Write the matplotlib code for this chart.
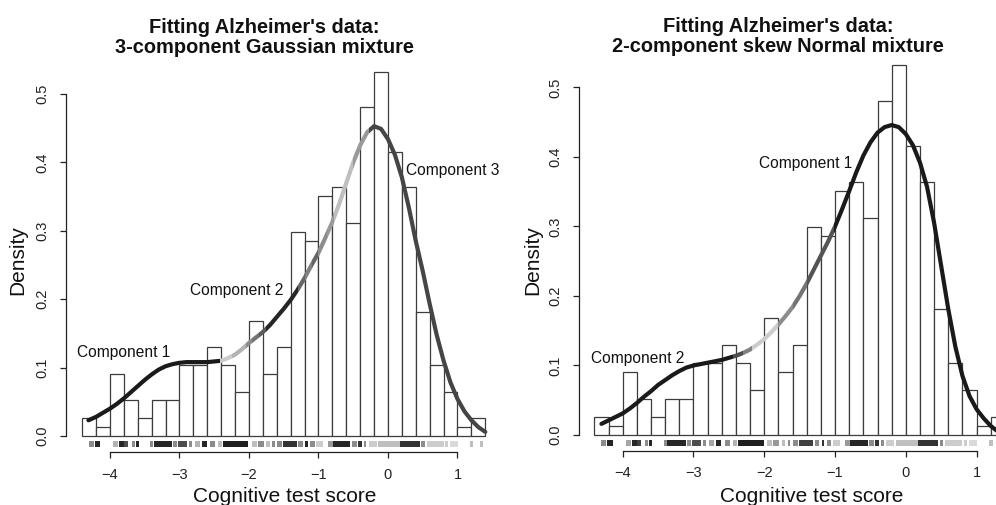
import numpy as np
import matplotlib
matplotlib.use('Agg')
import matplotlib.pyplot as plt
from matplotlib.patches import Rectangle

plt.rcParams['font.family'] = ['Liberation Sans', 'DejaVu Sans']

# ---------------- data ----------------
bin_left = [-4.4, -4.2, -4.0, -3.8, -3.6, -3.4, -3.2, -3.0, -2.8, -2.6, -2.4, -2.2, -2.0, -1.8,
            -1.6, -1.4, -1.2, -1.0, -0.8, -0.6, -0.4, -0.2, 0.0, 0.2, 0.4, 0.6, 0.8, 1.0, 1.2]
bin_counts = [2, 1, 7, 4, 2, 4, 4, 8, 8, 10, 8, 5, 13, 7, 10, 23, 22, 27, 28, 24, 37, 41, 32, 28,
              14, 8, 5, 1, 2]
bin_width = 0.2

gauss_x = [-4.31, -4.2, -4.1, -4.0, -3.9, -3.8, -3.7, -3.6, -3.5, -3.4, -3.3, -3.2, -3.1, -3.0,
           -2.9, -2.8, -2.7, -2.6, -2.5, -2.4, -2.3, -2.2, -2.1, -2.0, -1.9, -1.8, -1.7, -1.6,
           -1.5, -1.4, -1.3, -1.2, -1.1, -1.0, -0.9, -0.8, -0.7, -0.6, -0.5, -0.4, -0.3, -0.2,
           -0.1, 0.0, 0.1, 0.2, 0.3, 0.4, 0.5, 0.6, 0.7, 0.8, 0.9, 1.0, 1.1, 1.2, 1.3, 1.4]
gauss_y = [0.023, 0.028, 0.034, 0.040, 0.047, 0.055, 0.064, 0.073, 0.082, 0.090, 0.097, 0.102,
           0.105, 0.107, 0.108, 0.108, 0.108, 0.108, 0.109, 0.110, 0.114, 0.119, 0.127, 0.136,
           0.144, 0.152, 0.162, 0.174, 0.186, 0.199, 0.214, 0.231, 0.250, 0.268, 0.290, 0.313,
           0.340, 0.370, 0.400, 0.425, 0.444, 0.453, 0.449, 0.434, 0.411, 0.378, 0.334, 0.285,
           0.241, 0.193, 0.148, 0.110, 0.078, 0.054, 0.036, 0.023, 0.013, 0.006]
gauss_breaks = [-4.4, -2.42, -2.25, -2.05, -1.95, -1.85, -1.75, -1.3, -1.2, -1.1, -1.0, -0.88,
                -0.78, -0.5, -0.27, 1.5]
gauss_grays = [0.10, 0.80, 0.70, 0.55, 0.45, 0.35, 0.15, 0.40, 0.50, 0.40, 0.55, 0.60, 0.75,
               0.60, 0.27]

skew_x = [-4.30, -4.2, -4.1, -4.0, -3.9, -3.8, -3.7, -3.6, -3.5, -3.4, -3.3, -3.2, -3.1, -3.0,
          -2.9, -2.8, -2.7, -2.6, -2.5, -2.4, -2.3, -2.2, -2.1, -2.0, -1.9, -1.8, -1.7, -1.6,
          -1.5, -1.4, -1.3, -1.2, -1.1, -1.0, -0.9, -0.8, -0.7, -0.6, -0.5, -0.4, -0.3, -0.2,
          -0.1, 0.0, 0.1, 0.2, 0.3, 0.4, 0.5, 0.6, 0.7, 0.8, 0.9, 1.0, 1.1, 1.2, 1.3, 1.4]
skew_y = [0.016, 0.021, 0.026, 0.031, 0.038, 0.046, 0.055, 0.063, 0.072, 0.079, 0.086, 0.092,
          0.097, 0.100, 0.102, 0.104, 0.106, 0.108, 0.111, 0.114, 0.118, 0.123, 0.130, 0.138,
          0.148, 0.159, 0.171, 0.184, 0.200, 0.218, 0.238, 0.258, 0.278, 0.300, 0.325, 0.351,
          0.378, 0.402, 0.421, 0.435, 0.443, 0.446, 0.443, 0.433, 0.417, 0.392, 0.357, 0.305,
          0.243, 0.181, 0.127, 0.085, 0.056, 0.037, 0.024, 0.013, 0.005, 0.002]
skew_breaks = [-4.4, -2.44, -2.3, -2.18, -1.8, -1.6, -1.4, -1.02, 1.5]
skew_grays = [0.10, 0.30, 0.50, 0.80, 0.55, 0.45, 0.33, 0.10]

rug_start = [-4.30, -4.22, -3.95, -3.87, -3.80, -3.69, -3.63, -3.42, -3.37, -3.09, -3.02, -2.87,
             -2.78, -2.68, -2.56, -2.44, -2.37, -1.96, -1.87, -1.75, -1.67, -1.60, -1.51, -1.29,
             -1.19, -1.12, -1.03, -0.86, -0.79, -0.52, -0.43, -0.35, -0.28, -0.14, 0.17, 0.48,
             0.56, 0.82, 0.89, 1.18, 1.32]
rug_end = [-4.23, -4.14, -3.88, -3.80, -3.74, -3.64, -3.58, -3.38, -3.11, -3.04, -2.89, -2.82,
           -2.71, -2.61, -2.49, -2.39, -2.01, -1.89, -1.79, -1.70, -1.63, -1.53, -1.31, -1.22,
           -1.15, -1.05, -0.93, -0.79, -0.54, -0.45, -0.38, -0.31, -0.16, 0.17, 0.46, 0.53,
           0.80, 0.87, 1.01, 1.23, 1.37]
rug_gray_left = [0.55, 0.15, 0.70, 0.15, 0.30, 0.55, 0.15, 0.55, 0.15, 0.55, 0.30, 0.55, 0.70,
                 0.15, 0.55, 0.75, 0.12, 0.75, 0.55, 0.75, 0.55, 0.55, 0.20, 0.55, 0.15, 0.55,
                 0.80, 0.60, 0.15, 0.55, 0.20, 0.55, 0.80, 0.75, 0.20, 0.55, 0.80, 0.80, 0.85,
                 0.75, 0.75]
rug_gray_right = [0.55, 0.15, 0.65, 0.15, 0.25, 0.55, 0.15, 0.55, 0.15, 0.55, 0.30, 0.55, 0.65,
                  0.15, 0.55, 0.70, 0.12, 0.75, 0.60, 0.75, 0.55, 0.55, 0.25, 0.55, 0.20, 0.55,
                  0.80, 0.60, 0.15, 0.55, 0.20, 0.55, 0.80, 0.75, 0.20, 0.55, 0.80, 0.80, 0.85,
                  0.75, 0.75]

x_ticks = [-4, -3, -2, -1, 0, 1]
y_ticks = [0.0, 0.1, 0.2, 0.3, 0.4, 0.5]
y_ticklabels = ['0.0', '0.1', '0.2', '0.3', '0.4', '0.5']

titles = ["Fitting Alzheimer's data:\n3-component Gaussian mixture",
          "Fitting Alzheimer's data:\n2-component skew Normal mixture"]
xlabel = "Cognitive test score"
ylabel = "Density"

labels_left = [("Component 1", -3.80, 0.122), ("Component 2", -2.18, 0.212),
               ("Component 3", 0.935, 0.388)]
labels_right = [("Component 1", -1.414, 0.390), ("Component 2", -3.79, 0.110)]

# ---------------- figure ----------------
W, H = 996, 505
fig = plt.figure(figsize=(W / 100, H / 100), dpi=100)

density = np.array(bin_counts) / (np.sum(bin_counts) * bin_width)


def panel(rect, xlim, ylim_bottom, curve_x, curve_y, breaks, grays, rug_gray, labels):
    ax = fig.add_axes(rect)
    ax.set_xlim(*xlim)
    ax.set_ylim(ylim_bottom, 0.55)
    ax.bar(bin_left, density, width=bin_width, align='edge', facecolor='white',
           edgecolor='#3c3c3c', linewidth=0.9, zorder=2)
    # rug
    rug_w = [e - s for s, e in zip(rug_start, rug_end)]
    ax.bar(rug_start, [0.009] * len(rug_start), width=rug_w, bottom=-0.0165, align='edge',
           color=[str(g) for g in rug_gray], linewidth=0, zorder=2)
    # coloured density curve (clipped pieces)
    for b0, b1, g in zip(breaks[:-1], breaks[1:], grays):
        ln, = ax.plot(curve_x, curve_y, color=str(g), lw=3.0, solid_capstyle='round',
                      solid_joinstyle='round', zorder=3)
        clip = Rectangle((b0, -1), b1 - b0, 2, transform=ax.transData)
        ln.set_clip_path(clip)
    for txt, tx, ty in labels:
        ax.text(tx, ty, txt, fontsize=11.2, ha='center', va='center', color='#111111', zorder=4)
    for s in ['top', 'right']:
        ax.spines[s].set_visible(False)
    ax.spines['left'].set_bounds(0, 0.5)
    ax.spines['bottom'].set_bounds(-4, 1)
    for s in ['left', 'bottom']:
        ax.spines[s].set_color('#222222')
        ax.spines[s].set_linewidth(0.9)
    ax.set_xticks(x_ticks)
    ax.set_yticks(y_ticks)
    ax.set_yticklabels(y_ticklabels)
    ax.tick_params(axis='x', length=4.3, width=0.9, pad=7, labelsize=10.5, colors='#222222')
    ax.tick_params(axis='y', length=4.3, width=0.9, pad=8, labelsize=10.5, colors='#222222',
                   labelrotation=90)
    for lbl in ax.get_yticklabels():
        lbl.set_va('center')
    ax.patch.set_visible(False)
    return ax


left_rect = [66 / W, (H - 452) / H, (492.25 - 66) / W, (452 - 59.8) / H]
panel(left_rect, (-4.633, 1.5), -0.0234, gauss_x, gauss_y, gauss_breaks, gauss_grays,
      rug_gray_left, labels_left)

right_rect = [579 / W, (H - 450.7) / H, (1012 - 579) / W, (450.7 - 52.75) / H]
panel(right_rect, (-4.617, 1.5), -0.0226, skew_x, skew_y, skew_breaks, skew_grays,
      rug_gray_right, labels_right)

# titles and axis labels
fig.text(264 / W, 1 - 37.5 / H, titles[0], ha='center', va='center', fontsize=14.4,
         fontweight='bold', linespacing=1.1, color='#111111')
fig.text(778 / W, 1 - 36.5 / H, titles[1], ha='center', va='center', fontsize=14.4,
         fontweight='bold', linespacing=1.1, color='#111111')
fig.text(18 / W, 1 - 260 / H, ylabel, rotation=90, ha='center', va='center', fontsize=15,
         color='#111111')
fig.text(533 / W, 1 - 260 / H, ylabel, rotation=90, ha='center', va='center', fontsize=15,
         color='#111111')
fig.text(284.7 / W, 1 - 497 / H, xlabel, ha='center', va='center', fontsize=15, color='#111111')
fig.text(811.7 / W, 1 - 497 / H, xlabel, ha='center', va='center', fontsize=15, color='#111111')

fig.savefig('out.png', dpi=100, facecolor='white')
